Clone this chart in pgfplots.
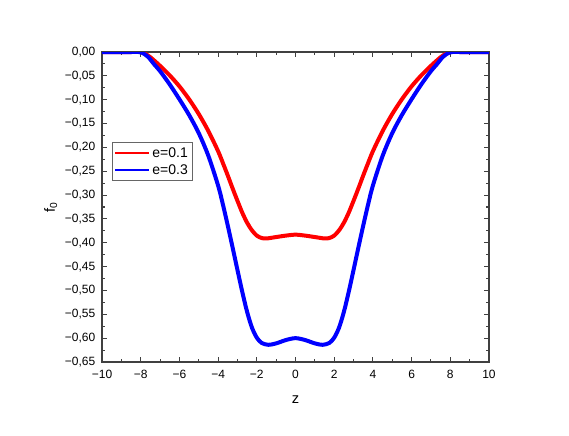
\documentclass[border=0pt]{standalone}
\usepackage{fontspec}
\setmainfont{Liberation Sans}
\usepackage{pgfplots}
\pgfplotsset{compat=1.18}

\pgfplotstableread{
z f
-10 0
-9 0
-8.5 0
-8.0 0
-7.8 -0.003
-7.5 -0.011
-7.0 -0.029
-6.5 -0.049
-6.0 -0.072
-5.5 -0.099
-5.0 -0.130
-4.5 -0.166
-4.0 -0.208
-3.75 -0.233
-3.5 -0.259
-3.25 -0.286
-3.0 -0.312
-2.75 -0.337
-2.5 -0.358
-2.25 -0.374
-2.0 -0.385
-1.75 -0.390
-1.5 -0.391
-1.0 -0.388
-0.5 -0.385
0 -0.383
0.5 -0.385
1.0 -0.388
1.5 -0.391
1.75 -0.390
2.0 -0.385
2.25 -0.374
2.5 -0.358
2.75 -0.337
3.0 -0.312
3.25 -0.286
3.5 -0.259
3.75 -0.233
4.0 -0.208
4.5 -0.166
5.0 -0.130
5.5 -0.099
6.0 -0.072
6.5 -0.049
7.0 -0.029
7.5 -0.011
7.8 -0.003
8.0 0
8.5 0
9 0
10 0
}\redtab

\pgfplotstableread{
z f
-10 0
-9 0
-8.5 0
-8.1 0
-7.9 -0.002
-7.6 -0.011
-7.3 -0.026
-7.0 -0.040
-6.5 -0.068
-6.0 -0.099
-5.5 -0.132
-5.0 -0.170
-4.5 -0.218
-4.0 -0.280
-3.75 -0.320
-3.5 -0.364
-3.25 -0.410
-3.0 -0.457
-2.75 -0.503
-2.5 -0.545
-2.25 -0.578
-2.0 -0.599
-1.75 -0.610
-1.4 -0.614
-1.0 -0.611
-0.5 -0.604
0 -0.600
0.5 -0.604
1.0 -0.611
1.4 -0.614
1.75 -0.610
2.0 -0.599
2.25 -0.578
2.5 -0.545
2.75 -0.503
3.0 -0.457
3.25 -0.410
3.5 -0.364
3.75 -0.320
4.0 -0.280
4.5 -0.218
5.0 -0.170
5.5 -0.132
6.0 -0.099
6.5 -0.068
7.0 -0.040
7.3 -0.026
7.6 -0.011
7.9 -0.002
8.1 0
8.5 0
9 0
10 0
}\bluetab

\begin{document}
\begin{tikzpicture}
% fixes the page to the reference's 569x436 px (1px = 0.75pt)
\path (0,0) rectangle (426.75pt,327pt);
\begin{axis}[
    at={(76.5pt,55.5pt)}, anchor=south west,
    scale only axis, width=290.25pt, height=232.5pt,
    xmin=-10, xmax=10, ymin=-0.65, ymax=0,
    xtick={-10,-8,-6,-4,-2,0,2,4,6,8,10},
    xticklabels={−10,−8,−6,−4,−2,0,2,4,6,8,10},
    ytick={-0.65,-0.6,-0.55,-0.5,-0.45,-0.4,-0.35,-0.3,-0.25,-0.2,-0.15,-0.1,-0.05,0},
    yticklabels={{−0,65},{−0,60},{−0,55},{−0,50},{−0,45},{−0,40},{−0,35},{−0,30},{−0,25},{−0,20},{−0,15},{−0,10},{−0,05},{0,00}},
    minor x tick num=1, minor y tick num=1,
    tick align=inside, xtick pos=both, ytick pos=both,
    major tick length=3.8pt, minor tick length=2.2pt,
    every tick/.style={black!75, line width=0.8pt},
    axis line style={black!75, line width=0.8pt},
    tick label style={font=\fontsize{9}{10}\selectfont},
    xticklabel style={yshift=-2.5pt},
    yticklabel style={xshift=-1.5pt},
    xlabel={z}, ylabel={f\textsubscript{0}},
    label style={font=\fontsize{11}{13}\selectfont},
    xlabel style={yshift=-6pt},
    ylabel style={yshift=-1pt},
    legend style={at={(0.026,0.709)}, anchor=north west,
      draw=black!60, line width=0.6pt,
      font=\fontsize{10.5}{12}\selectfont,
      inner sep=1.5pt, row sep=0pt},
    legend cell align=left,
    legend image code/.code={\draw[#1, line width=1.5pt] (0pt,0pt) -- (25pt,0pt);},
  ]
  \addplot[red, line width=3pt, smooth] table[x=z, y=f] {\redtab};
  \addlegendentry{e=0.1}
  \addplot[blue, line width=3pt, smooth] table[x=z, y=f] {\bluetab};
  \addlegendentry{e=0.3}
\end{axis}
\end{tikzpicture}
\end{document}
